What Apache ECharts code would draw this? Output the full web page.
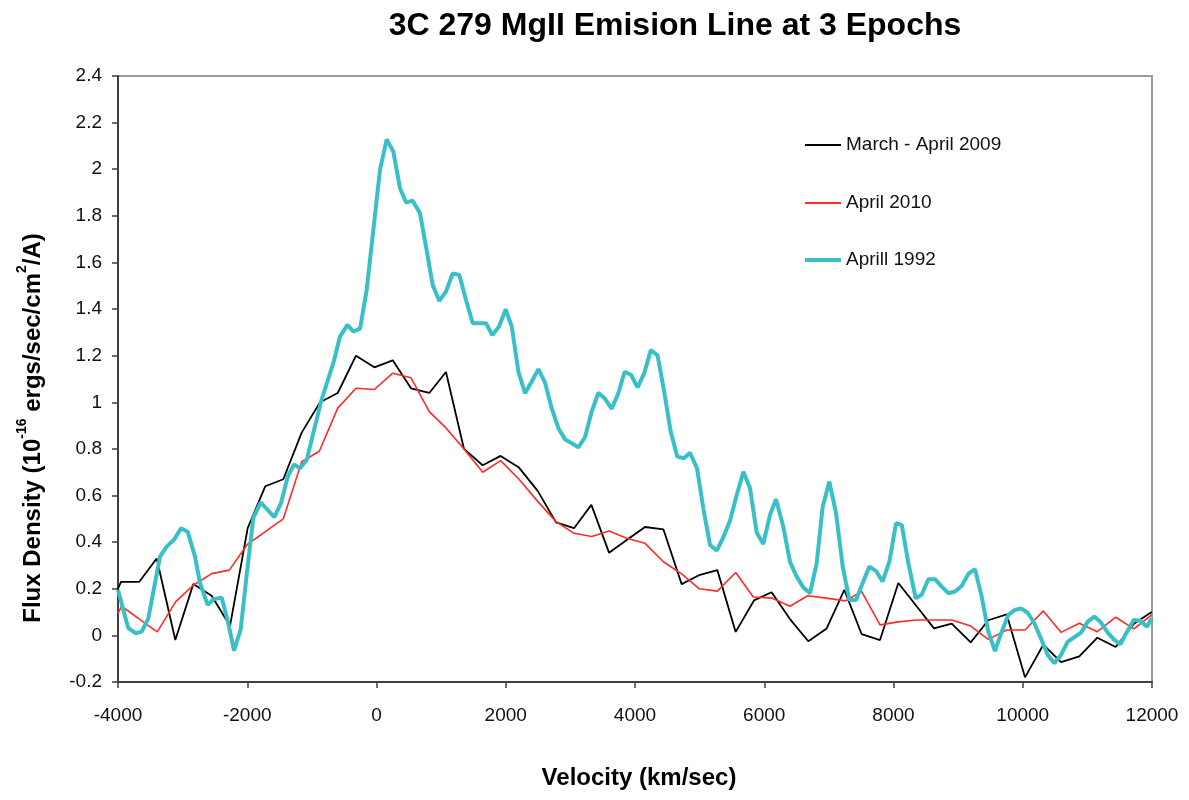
<!DOCTYPE html>
<html>
<head>
<meta charset="utf-8">
<script src="https://cdn.jsdelivr.net/npm/echarts@6/dist/echarts.min.js"></script>
<style>
  html, body { margin: 0; padding: 0; background: #fff; }
  #chart { width: 1189px; height: 800px; }
</style>
</head>
<body>
<div id="chart"></div>
<script>
// March - April 2009
const vel2009 = [-4000, -3954, -3670, -3401, -3113, -2835, -2550, -2267, -1993, -1720, -1442, -1158, -874, -600, -317, -33, 251, 534, 817, 1075, 1354, 1643, 1921, 2205, 2494, 2778, 3056, 3325, 3598, 3877, 4155, 4439, 4722, 5006, 5274, 5558, 5841, 6114, 6398, 6682, 6966, 7239, 7508, 7791, 8075, 8358, 8627, 8901, 9195, 9467, 9752, 10035, 10318, 10592, 10875, 11154, 11438, 11721, 11995];
const flux2009 = [0.20, 0.23, 0.23, 0.33, -0.02, 0.22, 0.17, 0.04, 0.46, 0.64, 0.67, 0.87, 1.00, 1.04, 1.20, 1.15, 1.18, 1.06, 1.04, 1.13, 0.80, 0.73, 0.77, 0.72, 0.62, 0.485, 0.46, 0.56, 0.355, 0.41, 0.465, 0.455, 0.22, 0.26, 0.28, 0.015, 0.15, 0.185, 0.07, -0.025, 0.03, 0.195, 0.005, -0.02, 0.225, 0.125, 0.03, 0.05, -0.03, 0.065, 0.09, -0.18, -0.04, -0.115, -0.09, -0.01, -0.05, 0.05, 0.10];

// April 2010
const vel2010 = [-4000, -3943, -3670, -3392, -3107, -2835, -2550, -2278, -2000, -1720, -1442, -1158, -885, -600, -317, -33, 251, 534, 817, 1075, 1354, 1643, 1921, 2205, 2494, 2778, 3056, 3330, 3598, 3870, 4155, 4439, 4722, 4995, 5274, 5558, 5830, 6114, 6398, 6672, 6960, 7255, 7508, 7791, 8075, 8358, 8627, 8901, 9195, 9467, 9752, 10035, 10318, 10592, 10875, 11154, 11438, 11721, 11995];
const flux2010 = [0.095, 0.125, 0.07, 0.015, 0.145, 0.215, 0.265, 0.28, 0.39, 0.445, 0.50, 0.745, 0.79, 0.975, 1.06, 1.055, 1.125, 1.105, 0.96, 0.89, 0.80, 0.70, 0.75, 0.67, 0.575, 0.488, 0.438, 0.424, 0.448, 0.417, 0.395, 0.316, 0.264, 0.20, 0.19, 0.27, 0.165, 0.16, 0.125, 0.17, 0.16, 0.148, 0.188, 0.045, 0.058, 0.066, 0.066, 0.066, 0.04, -0.017, 0.023, 0.023, 0.105, 0.013, 0.052, 0.016, 0.078, 0.028, 0.088];

// Aprill 1992
const vel1992 = [-4000, -3841, -3721, -3633, -3531, -3350, -3247, -3129, -3025, -2922, -2808, -2731, -2612, -2525, -2396, -2293, -2205, -2101, -2000, -1907, -1792, -1690, -1581, -1478, -1374, -1276, -1184, -1080, -966, -858, -745, -657, -565, -450, -357, -254, -152, -49, 54, 158, 261, 364, 457, 560, 673, 766, 870, 972, 1075, 1179, 1282, 1385, 1489, 1592, 1694, 1792, 1896, 2000, 2093, 2196, 2298, 2402, 2505, 2608, 2711, 2815, 2917, 3021, 3124, 3226, 3330, 3433, 3536, 3640, 3742, 3840, 3940, 4040, 4142, 4245, 4348, 4445, 4550, 4653, 4755, 4851, 4960, 5057, 5161, 5264, 5367, 5470, 5574, 5677, 5780, 5883, 5985, 6089, 6182, 6295, 6398, 6502, 6604, 6708, 6811, 6903, 7007, 7111, 7214, 7317, 7420, 7523, 7626, 7730, 7830, 7936, 8039, 8127, 8230, 8344, 8436, 8539, 8642, 8746, 8848, 8952, 9055, 9158, 9261, 9365, 9467, 9570, 9674, 9777, 9880, 9973, 10076, 10179, 10282, 10386, 10489, 10592, 10696, 10799, 10902, 11006, 11108, 11211, 11315, 11417, 11510, 11614, 11717, 11820, 11923, 11995];
const flux1992 = [0.195, 0.031, 0.009, 0.016, 0.073, 0.338, 0.381, 0.412, 0.460, 0.445, 0.338, 0.224, 0.131, 0.155, 0.162, 0.052, -0.065, 0.026, 0.281, 0.503, 0.571, 0.54, 0.507, 0.567, 0.681, 0.734, 0.717, 0.753, 0.881, 1.003, 1.103, 1.179, 1.282, 1.332, 1.303, 1.316, 1.482, 1.739, 1.997, 2.128, 2.075, 1.918, 1.857, 1.865, 1.811, 1.668, 1.503, 1.435, 1.475, 1.553, 1.546, 1.439, 1.339, 1.339, 1.339, 1.289, 1.325, 1.399, 1.325, 1.131, 1.039, 1.089, 1.142, 1.084, 0.974, 0.889, 0.841, 0.824, 0.807, 0.850, 0.960, 1.041, 1.015, 0.972, 1.039, 1.131, 1.117, 1.064, 1.124, 1.224, 1.202, 1.057, 0.878, 0.767, 0.760, 0.783, 0.717, 0.545, 0.388, 0.364, 0.421, 0.492, 0.602, 0.702, 0.631, 0.441, 0.392, 0.517, 0.584, 0.466, 0.316, 0.252, 0.206, 0.181, 0.309, 0.550, 0.660, 0.524, 0.295, 0.152, 0.152, 0.225, 0.295, 0.276, 0.231, 0.316, 0.481, 0.474, 0.310, 0.159, 0.174, 0.241, 0.241, 0.209, 0.181, 0.188, 0.212, 0.264, 0.284, 0.166, 0.016, -0.067, 0.016, 0.088, 0.109, 0.116, 0.097, 0.052, -0.013, -0.084, -0.119, -0.084, -0.027, -0.008, 0.012, 0.059, 0.081, 0.055, 0.012, -0.019, -0.038, 0.016, 0.066, 0.063, 0.037, 0.074];

const seriesNames = ['March - April 2009', 'April 2010', 'Aprill 1992'];
const colors = ['#000000', '#ff2a2a', '#38c0c6'];
const widths = [1.8, 1.6, 4];

const pairs = (xs, ys) => xs.map((x, i) => [x, ys[i]]);

const font = '"Liberation Sans", Arial, sans-serif';
const chart = echarts.init(document.getElementById('chart'));

// one legend per entry so each swatch gets its own line thickness
const legendTops = [145, 203, 260];
const legends = seriesNames.map((name, i) => ({
  orient: 'vertical',
  left: 805,
  top: legendTops[i] - 11,
  padding: 0,
  icon: 'rect',
  itemWidth: 36,
  itemHeight: Math.max(2, Math.round(widths[i])),
  textStyle: { fontFamily: font, fontSize: 19, color: '#111', lineHeight: 22 },
  data: [name]
}));

const series = [
  pairs(vel2009, flux2009),
  pairs(vel2010, flux2010),
  pairs(vel1992, flux1992)
].map((data, i) => ({
  name: seriesNames[i],
  type: 'line',
  data: data,
  symbol: 'none',
  lineStyle: { color: colors[i], width: widths[i] },
  itemStyle: { color: colors[i] }
}));

chart.setOption({
  animation: false,
  title: {
    text: '3C 279 MgII Emision Line at 3 Epochs',
    left: 670,
    top: 5,
    textAlign: 'center',
    textStyle: { fontFamily: font, fontSize: 32, fontWeight: 'bold', color: '#000' }
  },
  legend: legends,
  grid: {
    left: 118, right: 37, top: 76, bottom: 118,
    show: true,
    borderColor: '#9a9a9a',
    borderWidth: 2
  },
  xAxis: {
    type: 'value',
    min: -4000,
    max: 12000,
    interval: 2000,
    axisLine: { onZero: false, lineStyle: { color: '#404040', width: 2 } },
    axisTick: { show: true, inside: false, length: 6, lineStyle: { color: '#404040', width: 1.5 } },
    axisLabel: { margin: 24, fontFamily: font, fontSize: 19, color: '#111', formatter: v => String(v) },
    splitLine: { show: false }
  },
  yAxis: {
    type: 'value',
    min: -0.2,
    max: 2.4,
    interval: 0.2,
    axisLine: { show: true, onZero: false, lineStyle: { color: '#404040', width: 2 } },
    axisTick: { show: true, inside: false, length: 6, lineStyle: { color: '#404040', width: 1.5 } },
    axisLabel: { margin: 16, fontFamily: font, fontSize: 19, color: '#111' },
    splitLine: { show: false }
  },
  graphic: [
    {
      type: 'text',
      x: 639,
      y: 778,
      style: {
        text: 'Velocity (km/sec)',
        font: 'bold 24px ' + font,
        fill: '#000',
        align: 'center',
        verticalAlign: 'middle'
      }
    },
    {
      type: 'text',
      x: 30,
      y: 428,
      rotation: Math.PI / 2,
      style: {
        text: '{a|Flux Density (10}{s|-16}{a| ergs/sec/cm}{s|2}{a|/A)}',
        align: 'center',
        verticalAlign: 'middle',
        rich: {
          a: { fontFamily: font, fontSize: 24, fontWeight: 'bold', fill: '#000', lineHeight: 30, verticalAlign: 'bottom' },
          s: { fontFamily: font, fontSize: 14, fontWeight: 'bold', fill: '#000', lineHeight: 30, verticalAlign: 'top' }
        }
      }
    }
  ],
  series: series
});
</script>
</body>
</html>
